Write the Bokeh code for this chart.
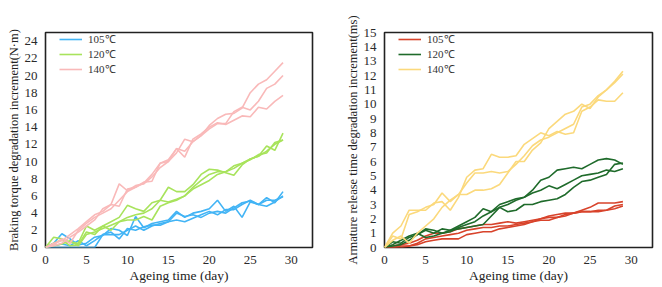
from bokeh.plotting import figure
from bokeh.layouts import row
from bokeh.models import FixedTicker, Range1d
from bokeh.embed import file_html
from bokeh.resources import INLINE

days = list(range(30))
temps = ["105℃", "120℃", "140℃"]

# Braking torque degradation increment (N·m)
torque_105 = [
    [0,0.5,1.6,1.0,0.3,0.5,1.2,1.4,2.2,2.0,1.4,3.6,2.3,2.8,3.0,3.2,4.2,3.5,4.0,4.2,4.5,5.5,4.2,4.8,3.5,5.3,5.0,5.8,5.2,6.5],
    [0,0.2,0.4,0.2,0.8,0.2,0.8,1.5,1.5,1.5,2.0,2.5,2.0,2.5,2.8,3.0,4.0,3.6,3.8,3.5,4.0,4.2,4.0,4.6,5.2,5.4,5.0,5.5,5.5,5.9],
    [0,0.0,0.0,0.0,0.0,0.0,0.0,1.5,1.8,1.0,2.2,2.0,2.4,2.6,2.6,3.0,3.2,3.0,3.4,3.8,4.2,3.8,4.4,4.4,5.0,5.5,5.0,4.8,5.3,6.0],
]
torque_120 = [
    [0,1.2,1.0,0.6,0.5,2.5,2.0,2.5,3.0,3.5,4.9,4.5,4.2,5.2,5.5,7.0,6.5,6.5,7.3,8.5,9.1,9.0,8.7,8.4,9.6,10.3,10.6,11.8,11.3,13.3],
    [0,0.5,0.9,0.2,0.3,1.8,1.5,2.5,2.0,3.0,3.2,3.2,3.6,3.2,4.8,5.2,5.5,6.0,7.0,7.8,8.5,8.8,8.8,9.5,9.8,10.3,10.6,11.2,12.0,12.5],
    [0,0.2,0.4,0.8,0.2,1.5,1.8,2.2,2.6,3.0,3.5,3.8,4.0,4.5,5.5,5.3,5.6,6.0,6.8,7.3,7.8,8.5,8.8,9.2,9.8,10.2,10.8,11.0,12.2,12.5],
]
torque_140 = [
    [0,0.3,1.0,0.5,2.0,2.8,3.5,4.0,4.5,5.5,6.5,7.0,7.5,8.5,9.8,10.0,11.5,11.2,12.3,13.0,14.2,15.0,15.5,15.6,16.2,18.0,19.0,19.5,20.5,21.5],
    [0,0.5,0.8,1.5,2.2,3.0,3.8,4.2,5.0,7.4,6.6,7.2,7.4,8.2,9.3,10.0,11.0,12.6,12.3,13.0,13.8,14.4,14.4,15.8,16.3,16.0,17.0,18.5,19.0,20.0],
    [0,0.2,0.5,1.2,1.8,2.5,3.2,4.5,5.0,4.8,6.8,7.0,7.6,7.7,9.8,10.2,11.5,10.5,12.6,13.2,14.0,14.5,14.3,14.8,15.3,15.2,16.3,16.1,17.0,17.7],
]

# Armature release time degradation increment (ms)
release_105 = [
    [0,0.1,0.2,0.3,0.5,0.8,1.0,1.0,1.1,1.3,1.4,1.5,1.6,1.6,1.7,1.8,1.7,1.8,1.9,2.0,2.2,2.3,2.4,2.4,2.5,2.5,2.5,2.6,2.9,3.0],
    [0,0.0,0.1,0.1,0.3,0.6,0.7,0.8,0.9,1.0,1.2,1.3,1.4,1.4,1.5,1.5,1.6,1.7,1.8,2.0,2.1,2.1,2.3,2.4,2.6,2.8,3.1,3.1,3.1,3.2],
    [0,0.0,0.0,0.1,0.2,0.4,0.5,0.6,0.6,0.6,0.9,1.0,1.1,1.1,1.3,1.4,1.5,1.6,1.8,1.9,1.9,2.1,2.2,2.4,2.5,2.5,2.6,2.6,2.7,2.9],
]
release_120 = [
    [0,0.4,0.3,0.7,0.9,1.2,1.0,1.3,1.2,1.5,1.8,2.1,2.7,2.5,2.8,3.0,3.3,3.5,3.8,4.0,4.3,4.1,4.4,4.7,5.0,5.1,5.2,5.4,5.3,5.5],
    [0,0.2,0.5,0.8,1.0,0.7,0.8,1.0,1.1,1.4,1.6,1.8,2.2,2.5,3.0,3.2,3.4,3.5,4.0,4.7,4.9,5.4,5.5,5.6,5.5,5.8,6.1,6.2,6.1,5.8],
    [0,0.1,0.2,0.5,0.9,1.3,1.2,1.0,1.2,1.3,1.4,1.5,1.6,2.2,2.8,2.5,2.6,3.0,3.0,3.2,3.3,3.4,3.7,4.2,4.6,4.7,4.9,5.1,5.8,5.9],
]
release_140 = [
    [0,1.0,1.5,2.6,2.6,2.6,3.1,3.2,2.6,3.5,4.9,5.4,5.5,6.5,6.3,6.3,6.4,7.2,7.6,8.0,7.8,8.1,7.9,8.0,9.5,9.8,10.3,10.2,10.2,10.8],
    [0,0.8,0.6,2.3,2.5,2.8,3.0,3.8,3.2,3.7,3.7,4.0,4.0,4.1,4.4,5.2,6.0,6.0,6.8,7.3,8.3,8.8,9.3,9.5,10.0,9.7,10.5,11.0,11.6,12.3],
    [0,0.5,0.8,0.3,1.0,1.5,2.0,2.8,3.3,3.7,4.5,5.2,5.2,5.3,5.2,5.3,5.8,6.4,7.1,7.5,7.7,8.0,8.3,8.6,9.8,10.0,10.6,11.0,11.5,12.1],
]

x_ticks = [0, 5, 10, 15, 20, 25, 30]
torque_ticks = list(range(0, 25, 2))
release_ticks = list(range(0, 16, 1))

FONT = "Liberation Serif"


def make_fig(groups, colors, ylabel, ymax, yticks, left, right, fw, ylabel_size):
    p = figure(frame_width=fw, frame_height=215, output_backend="svg", toolbar_location=None,
               x_range=Range1d(0, 32.6), y_range=Range1d(0, ymax),
               min_border_left=left, min_border_right=right,
               min_border_top=32, min_border_bottom=32)
    for data, color, lab in zip(groups, colors, temps):
        for i, ys in enumerate(data):
            kw = {"legend_label": lab} if i == 0 else {}
            p.line(days, ys, line_color=color, line_width=1.6, **kw)
    p.xgrid.visible = False
    p.ygrid.visible = False
    p.outline_line_color = "#222222"
    p.outline_line_width = 1.6
    for ax in (p.xaxis, p.yaxis):
        ax.axis_line_color = None
        ax.major_tick_line_color = None
        ax.minor_tick_line_color = None
        ax.major_label_text_font = FONT
        ax.major_label_text_font_size = "13px"
        ax.major_label_text_color = "#2a2a2a"
        ax.axis_label_text_font = FONT
        ax.axis_label_text_font_size = "13.5px"
        ax.axis_label_text_font_style = "normal"
        ax.axis_label_text_color = "#222222"
        ax.major_label_standoff = 2
        ax.axis_label_standoff = 1
    p.yaxis.axis_label_text_font_size = ylabel_size
    p.xaxis.ticker = FixedTicker(ticks=x_ticks)
    p.yaxis.ticker = FixedTicker(ticks=yticks)
    p.xaxis.axis_label = "Ageing time (day)"
    p.yaxis.axis_label = ylabel
    lg = p.legend[0]
    lg.location = (14, 171)
    lg.border_line_color = None
    lg.background_fill_alpha = 0
    lg.label_text_font = FONT
    lg.label_text_font_size = "11px"
    lg.label_text_color = "#333333"
    lg.glyph_width = 23
    lg.glyph_height = 12
    lg.label_height = 12
    lg.spacing = 0
    lg.padding = 0
    lg.label_standoff = 6
    lg.margin = 0
    return p


left = make_fig([torque_105, torque_120, torque_140],
                ["#42b4f5", "#a8e35c", "#f9b9b9"],
                "Braking torque degradation increment(N·m)", 25, torque_ticks,
                45, 20, 267, "12.5px")
right = make_fig([release_105, release_120, release_140],
                 ["#d8432b", "#1f6b2b", "#fbd97c"],
                 "Armature release time degradation increment(ms)", 15, release_ticks,
                 52, 2, 268, "12.5px")

layout = row(left, right)
open("out.html", "w").write(file_html(layout, INLINE))
